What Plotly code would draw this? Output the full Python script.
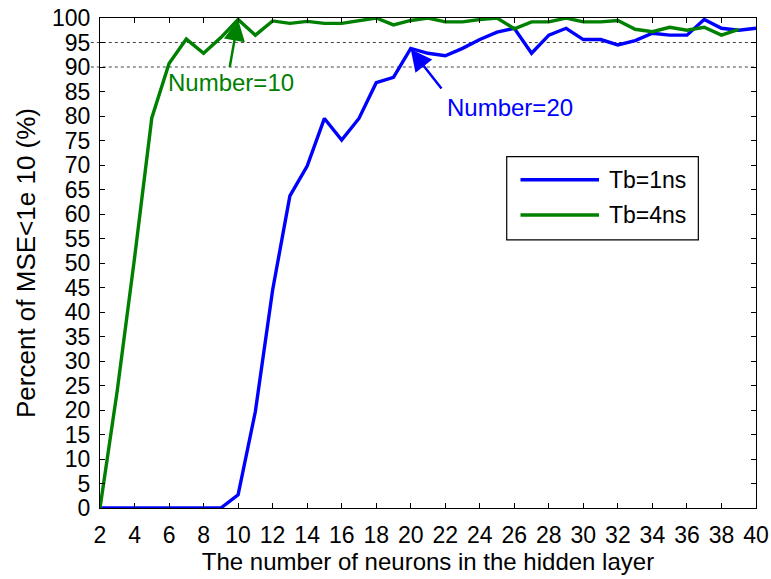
import plotly.graph_objects as go

# Hidden-layer sizes tested
neurons_1ns = list(range(2, 41))
neurons_4ns = list(range(2, 40))

# Percent of trained networks reaching MSE < 1e-10
pct_tb1 = [0, 0, 0, 0, 0, 0, 0, 0, 2.7, 19.7, 44.5, 63.7, 69.8, 79.5, 75.1, 79.5,
           86.8, 87.9, 93.8, 92.8, 92.3, 93.8, 95.6, 97.1, 97.9, 92.8, 96.5,
           97.9, 95.6, 95.6, 94.5, 95.4, 96.9, 96.5, 96.5, 99.7, 97.9, 97.5, 97.9]
pct_tb4 = [0, 24, 51, 79.6, 90.7, 95.7, 92.8, 96.0, 99.7, 96.5, 99.4, 98.9, 99.3,
           98.9, 98.9, 99.4, 100, 98.6, 99.5, 100, 99.2, 99.2, 99.7, 100, 97.8,
           99.2, 99.2, 100, 99.2, 99.2, 99.5, 97.7, 97.2, 98.1, 97.5, 98.1, 96.5, 97.7]

series_names = ["Tb=1ns", "Tb=4ns"]
series_colors = ["#0000ff", "#008000"]
ref_levels = [90, 95]
x_ticks = list(range(2, 41, 2))
y_ticks = list(range(0, 101, 5))

FONT = "Liberation Sans, Arial, Helvetica, sans-serif"

fig = go.Figure()
for xs, ys, name, col in [(neurons_1ns, pct_tb1, series_names[0], series_colors[0]),
                          (neurons_4ns, pct_tb4, series_names[1], series_colors[1])]:
    fig.add_trace(go.Scatter(x=xs, y=ys, mode="lines", name=name,
                             line=dict(color=col, width=3.4), showlegend=False))

# Dotted reference levels
for lv in ref_levels:
    fig.add_shape(type="line", xref="paper", yref="y", x0=-0.014, x1=1, y0=lv, y1=lv,
                  line=dict(color="#444444", width=1, dash="dot"), layer="below")

# Callouts pointing at the chosen network sizes
fig.add_annotation(x=10, y=pct_tb4[8], xref="x", yref="y", ax=9.5, ay=89.7,
                   axref="x", ayref="y", showarrow=True, arrowhead=2, arrowsize=1.7,
                   arrowwidth=2.5, arrowcolor=series_colors[1], text="")
fig.add_annotation(x=5.8, y=86.8, xref="x", yref="y", text="Number=10",
                   showarrow=False, xanchor="left", yanchor="middle",
                   font=dict(family=FONT, size=24, color=series_colors[1]))
fig.add_annotation(x=20.0, y=pct_tb1[18] - 0.2, xref="x", yref="y", ax=21.85, ay=85.3,
                   axref="x", ayref="y", showarrow=True, arrowhead=2, arrowsize=1.7,
                   arrowwidth=2.5, arrowcolor=series_colors[0], text="")
fig.add_annotation(x=22.0, y=81.8, xref="x", yref="y", text="Number=20",
                   showarrow=False, xanchor="left", yanchor="middle",
                   font=dict(family=FONT, size=24, color=series_colors[0]))

# Legend box
lx0, lx1, ly0, ly1 = 0.6200, 0.9121, 0.5470, 0.7170
fig.add_shape(type="rect", xref="paper", yref="paper", x0=lx0, x1=lx1, y0=ly0, y1=ly1,
              line=dict(color="black", width=1.2), fillcolor="white")
for i, (name, col) in enumerate(zip(series_names, series_colors)):
    yy = 0.6700 - i * 0.0720
    fig.add_shape(type="line", xref="paper", yref="paper", x0=0.6410, x1=0.7607,
                  y0=yy, y1=yy, line=dict(color=col, width=3.4))
    fig.add_annotation(x=0.7733, y=yy, xref="paper", yref="paper", text=name,
                       showarrow=False, xanchor="left", yanchor="middle",
                       font=dict(family=FONT, size=23, color="black"))

axis_common = dict(showgrid=False, zeroline=False, showline=True, linecolor="black",
                   linewidth=1, mirror="allticks", ticks="inside", ticklen=5,
                   tickcolor="black", automargin=False,
                   tickfont=dict(family=FONT, size=23, color="black"))
fig.update_xaxes(range=[2, 40], tickvals=x_ticks, ticklabelstandoff=6,
                 title=dict(text="The number of neurons in the hidden layer",
                            font=dict(family=FONT, size=24, color="black"), standoff=5),
                 **axis_common)
fig.update_yaxes(range=[0, 100], tickvals=y_ticks, ticklabelstandoff=4,
                 title=dict(text="Percent of MSE<1e 10 (%)",
                            font=dict(family=FONT, size=26, color="black"), standoff=8),
                 **axis_common)

fig.update_layout(width=771, height=579, plot_bgcolor="white", paper_bgcolor="white",
                  margin=dict(l=100, r=15, t=18, b=71), showlegend=False)

fig.write_html("out.html")
